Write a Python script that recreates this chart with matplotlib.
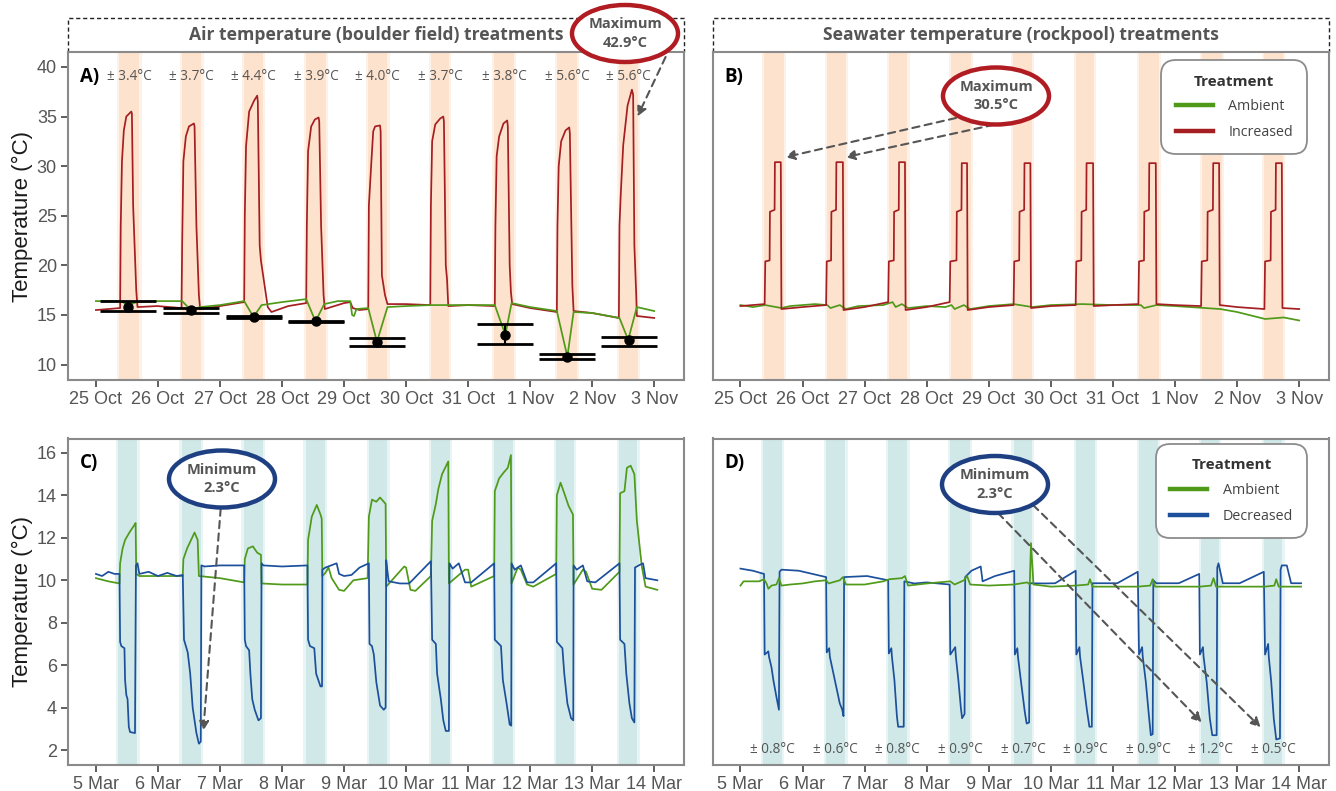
import numpy as np
import matplotlib
matplotlib.use("Agg")
import matplotlib.pyplot as plt
import matplotlib.dates as mdates
from matplotlib.lines import Line2D
from matplotlib.patches import Ellipse

# ---------------- data (t = days since first date) ----------------
start_ab = "2019-10-25"
start_cd = "2020-03-05"

band_ab_start = [0.38, 1.39, 2.39, 3.39, 4.39, 5.40, 6.42, 7.44, 8.44]
band_ab_end = [0.70, 1.70, 2.69, 3.71, 4.70, 5.69, 6.74, 7.76, 8.74]
band_cd_start = [0.36, 1.38, 2.38, 3.38, 4.40, 5.40, 6.42, 7.42, 8.44]
band_cd_end = [0.67, 1.69, 2.69, 3.69, 4.70, 5.71, 6.72, 7.71, 8.73]

sd_air = [3.4, 3.7, 4.4, 3.9, 4.0, 3.7, 3.8, 5.6, 5.6]
sd_sea_cold = [0.8, 0.6, 0.8, 0.9, 0.7, 0.9, 0.9, 1.2, 0.5]

# A) air temperature, increased treatment
air_inc = [
    (0.00, 15.5), (0.20, 15.6), (0.39, 15.7), (0.40, 24.0), (0.42, 30.5), (0.45, 33.6), (0.49, 35.0),
    (0.57, 35.5), (0.58, 35.3), (0.60, 26.0), (0.65, 17.5), (0.67, 15.8), (0.99, 15.9),
    (1.38, 15.7), (1.39, 22.0), (1.41, 30.5), (1.45, 33.0), (1.50, 34.0), (1.58, 34.3), (1.59, 34.0),
    (1.62, 24.0), (1.66, 17.0), (1.68, 15.6), (2.00, 15.9), (2.39, 16.3),
    (2.40, 25.0), (2.42, 32.0), (2.47, 35.5), (2.55, 36.6), (2.60, 37.1), (2.61, 36.5), (2.64, 22.0),
    (2.66, 20.5), (2.77, 15.8), (2.83, 15.3), (3.10, 15.9), (3.39, 16.2),
    (3.40, 24.0), (3.42, 31.5), (3.47, 34.0), (3.53, 34.7), (3.59, 34.9), (3.60, 34.5), (3.63, 24.0),
    (3.67, 17.0), (3.69, 15.6), (4.00, 16.2), (4.10, 16.3), (4.14, 15.7), (4.25, 15.5), (4.39, 15.6),
    (4.40, 26.0), (4.44, 30.4), (4.47, 33.5), (4.50, 34.0), (4.58, 34.1), (4.59, 33.5), (4.61, 19.0),
    (4.66, 17.0), (4.70, 16.1), (5.00, 16.1), (5.39, 16.0),
    (5.40, 26.0), (5.42, 32.5), (5.47, 34.2), (5.55, 34.8), (5.60, 35.0), (5.61, 34.5), (5.64, 20.0),
    (5.66, 18.6), (5.68, 15.9), (6.00, 16.0), (6.43, 15.9),
    (6.44, 24.0), (6.46, 31.0), (6.50, 33.0), (6.57, 34.3), (6.63, 34.6), (6.64, 34.0), (6.67, 20.0),
    (6.69, 17.3), (6.71, 16.1), (7.00, 15.7), (7.43, 15.3),
    (7.44, 24.0), (7.46, 30.0), (7.50, 32.5), (7.57, 33.6), (7.63, 33.9), (7.64, 33.3), (7.68, 18.0),
    (7.70, 15.4), (8.00, 15.2), (8.43, 14.7),
    (8.44, 24.0), (8.46, 27.1), (8.50, 32.1), (8.57, 36.1), (8.64, 37.7), (8.66, 37.2), (8.68, 22.0),
    (8.71, 17.0), (8.72, 14.9), (9.00, 14.7),
]
air_amb = [
    (0.00, 16.4), (0.40, 16.4), (0.52, 16.0), (0.66, 16.3), (1.00, 16.4), (1.39, 16.4), (1.53, 15.5),
    (1.68, 15.8), (2.00, 16.0), (2.39, 16.4), (2.54, 14.8), (2.67, 16.0), (3.00, 16.3), (3.39, 16.6),
    (3.54, 14.35), (3.68, 16.1), (3.90, 16.4), (4.10, 16.4), (4.13, 15.0), (4.16, 14.9), (4.20, 15.6),
    (4.39, 15.7), (4.53, 12.3), (4.70, 15.8), (5.00, 15.9), (5.40, 16.0), (5.70, 16.0), (6.00, 16.0),
    (6.43, 16.0), (6.60, 13.0), (6.70, 16.2), (7.00, 15.8), (7.43, 15.4), (7.60, 10.8), (7.70, 15.3),
    (8.00, 15.2), (8.44, 14.7), (8.58, 12.5), (8.72, 15.8), (9.00, 15.4),
]
eb_t = [0.51, 1.53, 2.55, 3.55, 4.53, 6.60, 7.60, 8.59]
eb_mean = [15.85, 15.47, 14.80, 14.36, 12.32, 13.00, 10.80, 12.48]
eb_lo = [15.42, 15.18, 14.74, 14.32, 11.85, 12.04, 10.57, 11.90]
eb_hi = [16.36, 15.68, 14.86, 14.42, 12.73, 14.05, 11.03, 12.81]

# B) seawater, increased treatment (stepped heating)
sea_inc = [
    (0.00, 15.9), (0.39, 16.1), (0.40, 20.4), (0.47, 20.5), (0.475, 25.4), (0.55, 25.6), (0.555, 30.4),
    (0.65, 30.4), (0.66, 15.6), (1.00, 15.8), (1.38, 16.0),
    (1.39, 20.4), (1.46, 20.5), (1.465, 25.4), (1.54, 25.6), (1.545, 30.4), (1.65, 30.4), (1.66, 15.5),
    (2.00, 15.8), (2.38, 16.3),
    (2.39, 20.4), (2.47, 20.5), (2.475, 25.4), (2.55, 25.6), (2.555, 30.4), (2.65, 30.4), (2.66, 15.5),
    (3.00, 15.8), (3.37, 16.3),
    (3.38, 20.4), (3.48, 20.5), (3.485, 25.4), (3.56, 25.6), (3.565, 30.3), (3.65, 30.3), (3.66, 15.5),
    (4.00, 15.8), (4.40, 16.0),
    (4.41, 20.4), (4.49, 20.5), (4.495, 25.4), (4.57, 25.6), (4.575, 30.3), (4.67, 30.3), (4.68, 15.7),
    (5.00, 15.9), (5.40, 16.0),
    (5.41, 20.4), (5.49, 20.5), (5.495, 25.4), (5.57, 25.6), (5.575, 30.3), (5.68, 30.3), (5.69, 15.9),
    (6.00, 16.0), (6.41, 16.1),
    (6.42, 20.4), (6.50, 20.5), (6.505, 25.4), (6.58, 25.6), (6.585, 30.3), (6.69, 30.3), (6.70, 16.1),
    (7.00, 16.0), (7.42, 15.9),
    (7.43, 20.4), (7.52, 20.5), (7.525, 25.4), (7.61, 25.6), (7.615, 30.3), (7.71, 30.3), (7.72, 16.0),
    (8.00, 15.8), (8.44, 15.6),
    (8.45, 20.4), (8.54, 20.5), (8.545, 25.4), (8.62, 25.6), (8.625, 30.3), (8.72, 30.3), (8.73, 15.7),
    (9.00, 15.6),
]
sea_amb = [
    (0.00, 16.0), (0.20, 15.8), (0.40, 16.0), (0.66, 15.7), (0.80, 15.9), (1.20, 16.1), (1.40, 16.0),
    (1.45, 15.7), (1.60, 16.0), (1.70, 15.6), (1.90, 15.9), (2.30, 16.0), (2.45, 16.3), (2.50, 15.8),
    (2.60, 16.1), (2.70, 15.7), (3.00, 15.9), (3.30, 15.8), (3.40, 16.0), (3.45, 15.6), (3.60, 16.0),
    (3.70, 15.6), (4.00, 15.9), (4.40, 16.1), (4.70, 15.8), (5.00, 16.0), (5.50, 16.1), (6.00, 16.0),
    (6.45, 16.0), (6.50, 15.7), (6.70, 16.0), (7.00, 15.9), (7.73, 15.6), (8.00, 15.3), (8.45, 14.6),
    (8.75, 14.75), (9.00, 14.45),
]

# C) air temperature, decreased treatment
air_dec = [
    (0.00, 10.3), (0.10, 10.2), (0.20, 10.4), (0.30, 10.3), (0.38, 10.3), (0.39, 7.1), (0.41, 6.9),
    (0.46, 6.8), (0.47, 5.3), (0.49, 4.6), (0.51, 4.4), (0.53, 3.1), (0.55, 2.85), (0.63, 2.8),
    (0.645, 10.7), (0.67, 10.8), (0.70, 10.3), (0.85, 10.4), (1.00, 10.2), (1.15, 10.35), (1.30, 10.2),
    (1.40, 10.25),
    (1.42, 7.2), (1.44, 7.0), (1.48, 6.6), (1.52, 5.6), (1.56, 4.0), (1.62, 2.8), (1.66, 2.3),
    (1.69, 2.4), (1.70, 10.7), (1.75, 10.65), (2.00, 10.7), (2.39, 10.7),
    (2.40, 7.2), (2.42, 6.9), (2.47, 6.7), (2.49, 5.6), (2.52, 4.4), (2.56, 3.9), (2.62, 3.4),
    (2.66, 3.5), (2.67, 10.8), (2.70, 10.7), (3.00, 10.65), (3.41, 10.7),
    (3.42, 7.2), (3.45, 6.9), (3.52, 6.8), (3.55, 5.6), (3.62, 5.0), (3.645, 5.0), (3.65, 10.5),
    (3.70, 10.6), (3.88, 10.8), (3.92, 10.3), (4.00, 10.2), (4.12, 10.25), (4.25, 10.6), (4.40, 10.8),
    (4.41, 7.0), (4.45, 6.9), (4.48, 6.5), (4.52, 5.2), (4.58, 4.1), (4.64, 3.9), (4.67, 4.0),
    (4.68, 10.95), (4.70, 10.4), (4.72, 9.95), (4.90, 9.85), (5.05, 9.85), (5.40, 10.9),
    (5.42, 7.2), (5.48, 7.0), (5.50, 5.6), (5.56, 4.4), (5.60, 3.4), (5.64, 2.9), (5.69, 2.9),
    (5.70, 10.8), (5.75, 10.55), (5.85, 10.8), (5.95, 9.9), (6.05, 9.9), (6.42, 10.8),
    (6.43, 7.2), (6.53, 6.9), (6.56, 5.3), (6.62, 4.2), (6.67, 3.2), (6.695, 3.15), (6.70, 10.8),
    (6.75, 10.5), (6.85, 10.7), (6.95, 9.9), (7.05, 9.9), (7.42, 10.8),
    (7.43, 7.1), (7.52, 6.8), (7.55, 5.6), (7.60, 4.2), (7.66, 3.5), (7.695, 3.4), (7.70, 10.7),
    (7.75, 10.5), (7.85, 10.7), (7.92, 9.95), (8.05, 9.9), (8.44, 10.8),
    (8.45, 7.2), (8.52, 7.0), (8.55, 5.6), (8.60, 4.2), (8.64, 3.5), (8.68, 3.3), (8.69, 10.6),
    (8.75, 10.7), (8.82, 10.8), (8.86, 10.1), (9.05, 10.0),
]
air_amb_cd = [
    (0.00, 10.1), (0.20, 9.95), (0.38, 9.85), (0.39, 10.8), (0.43, 11.5), (0.47, 11.9), (0.55, 12.3),
    (0.62, 12.6), (0.64, 12.7), (0.65, 10.3), (0.70, 10.2), (1.00, 10.2), (1.40, 10.2), (1.41, 11.0),
    (1.47, 11.5), (1.55, 12.0), (1.59, 12.25), (1.64, 11.9), (1.66, 10.2), (2.00, 10.1), (2.39, 9.9),
    (2.40, 11.0), (2.45, 11.5), (2.53, 11.6), (2.60, 11.3), (2.66, 11.2), (2.67, 9.85), (3.00, 9.8),
    (3.41, 9.8), (3.42, 11.9), (3.48, 13.0), (3.56, 13.55), (3.62, 13.1), (3.64, 12.9), (3.65, 10.2),
    (3.70, 10.35), (3.75, 10.6), (3.80, 10.1), (3.92, 9.55), (4.00, 9.5), (4.15, 10.0), (4.38, 10.1),
    (4.40, 13.0), (4.45, 13.8), (4.52, 13.7), (4.58, 13.9), (4.67, 13.6), (4.68, 9.7), (4.97, 10.65),
    (5.00, 10.6), (5.07, 9.55), (5.15, 9.5), (5.40, 10.2), (5.42, 12.8), (5.48, 13.6), (5.52, 14.3),
    (5.58, 15.0), (5.68, 15.6), (5.69, 9.85), (5.95, 10.5), (6.00, 10.5), (6.05, 9.7), (6.42, 10.2),
    (6.43, 14.2), (6.50, 14.8), (6.58, 15.1), (6.64, 15.3), (6.69, 15.9), (6.70, 9.85), (6.80, 10.6),
    (6.85, 10.5), (6.95, 9.8), (7.05, 9.7), (7.42, 10.3), (7.43, 14.0), (7.49, 14.6), (7.55, 14.1),
    (7.62, 13.5), (7.69, 13.1), (7.70, 9.8), (7.85, 10.5), (7.90, 10.4), (8.00, 9.6), (8.15, 9.55),
    (8.44, 10.4), (8.45, 14.1), (8.52, 14.2), (8.56, 15.3), (8.62, 15.4), (8.68, 15.0), (8.72, 12.8),
    (8.80, 10.65), (8.86, 9.7), (9.05, 9.55),
]

# D) seawater, decreased treatment
sea_dec = [
    (0.00, 10.55), (0.20, 10.45), (0.38, 10.3), (0.39, 6.5), (0.43, 6.6), (0.45, 6.65), (0.46, 6.4),
    (0.50, 5.9), (0.53, 5.3), (0.58, 4.5), (0.62, 3.9), (0.63, 10.4), (0.66, 10.5), (0.94, 10.45),
    (1.38, 10.15), (1.39, 6.6), (1.43, 6.8), (1.44, 6.4), (1.52, 5.3), (1.60, 4.2), (1.64, 3.9),
    (1.66, 3.6), (1.67, 10.15), (2.04, 10.2), (2.38, 10.0),
    (2.39, 6.55), (2.43, 6.8), (2.44, 6.4), (2.48, 5.3), (2.52, 3.6), (2.54, 3.1), (2.63, 3.1),
    (2.64, 9.95), (2.80, 9.85), (3.00, 9.9), (3.37, 9.8),
    (3.38, 6.5), (3.46, 6.85), (3.47, 6.4), (3.51, 5.3), (3.55, 4.0), (3.57, 3.5), (3.61, 3.7),
    (3.62, 10.15), (3.72, 10.45), (3.87, 10.65), (3.90, 9.95), (4.10, 10.2), (4.41, 10.45),
    (4.42, 6.5), (4.46, 6.8), (4.47, 6.4), (4.52, 5.2), (4.58, 3.8), (4.61, 3.25), (4.65, 3.3),
    (4.66, 9.86), (4.90, 9.85), (5.07, 9.86), (5.40, 10.45),
    (5.41, 6.5), (5.46, 6.85), (5.47, 6.4), (5.52, 5.3), (5.58, 3.9), (5.62, 3.1), (5.66, 3.1),
    (5.67, 9.86), (6.07, 9.86), (6.40, 10.4),
    (6.42, 6.5), (6.47, 6.85), (6.48, 6.4), (6.53, 5.2), (6.58, 3.6), (6.61, 2.7), (6.64, 2.75),
    (6.65, 10.0), (6.70, 9.86), (7.06, 9.86), (7.39, 10.3),
    (7.40, 6.5), (7.45, 6.85), (7.46, 6.4), (7.51, 5.2), (7.56, 3.5), (7.60, 2.7), (7.67, 2.7),
    (7.68, 10.6), (7.70, 10.8), (7.77, 9.86), (8.04, 9.86), (8.43, 10.4),
    (8.45, 6.5), (8.50, 7.0), (8.51, 6.4), (8.55, 5.2), (8.59, 3.5), (8.63, 2.5), (8.69, 2.55),
    (8.70, 10.5), (8.72, 10.7), (8.80, 10.7), (8.87, 9.86), (9.03, 9.86),
]
sea_amb_cd = [
    (0.00, 9.75), (0.05, 9.95), (0.30, 9.95), (0.38, 10.05), (0.42, 9.85), (0.45, 9.6), (0.50, 9.75),
    (0.58, 9.8), (0.62, 10.1), (0.66, 9.75), (0.80, 9.8), (1.00, 9.85), (1.20, 9.95), (1.38, 10.0),
    (1.42, 9.85), (1.60, 10.0), (1.65, 10.15), (1.70, 9.8), (2.00, 9.8), (2.30, 9.95), (2.40, 10.05),
    (2.60, 10.1), (2.65, 10.2), (2.70, 9.75), (3.00, 9.85), (3.38, 9.95), (3.45, 9.8), (3.60, 10.0),
    (3.65, 10.2), (3.70, 9.8), (4.00, 9.75), (4.40, 9.8), (4.62, 9.9), (4.66, 9.8), (4.68, 11.75),
    (4.72, 9.8), (5.00, 9.7), (5.40, 9.75), (5.60, 9.8), (5.63, 10.05), (5.67, 9.7), (6.00, 9.7),
    (6.40, 9.7), (6.60, 9.75), (6.64, 10.05), (6.68, 9.7), (7.00, 9.7), (7.40, 9.7), (7.58, 9.75),
    (7.62, 10.1), (7.66, 9.7), (8.00, 9.7), (8.45, 9.7), (8.60, 9.75), (8.63, 10.05), (8.67, 9.7),
    (9.03, 9.7),
]

# ---------------- style ----------------
W, H = 1336, 791
GREEN = "#4f9a18"
RED = "#a51e22"
BLUE = "#1c4f9c"
PEACH = "#fde2cd"
TEAL = "#d0e8e8"
GREY_TXT = "#555555"
SANS = ["Liberation Sans", "DejaVu Sans"]
HUM = ["Open Sans", "DejaVu Sans"]

plt.rcParams["font.family"] = SANS

fig = plt.figure(figsize=(W / 100, H / 100), dpi=100)


def px_axes(l, t, r, b):
    return fig.add_axes([l / W, 1 - b / H, (r - l) / W, (b - t) / H])


axA = px_axes(68, 52, 684, 380)
axB = px_axes(712.5, 52, 1329, 380)
axC = px_axes(68, 438.5, 684, 764.5)
axD = px_axes(712.5, 438.5, 1329, 764.5)

base_ab = mdates.datestr2num(start_ab)
base_cd = mdates.datestr2num(start_cd)


def series(pts):
    a = np.array(pts, dtype=float)
    return a[:, 0], a[:, 1]


def draw_bands(ax, base, starts, ends, color):
    for s, e in zip(starts, ends):
        ax.axvspan(base + s - 0.035, base + e + 0.035, color=color, alpha=0.45, lw=0, zorder=0)
        ax.axvspan(base + s, base + e, color=color, lw=0, zorder=0)


def fill_gap(ax, base, a_pts, b_pts, starts, ends, color):
    ta, va = series(a_pts)
    tb, vb = series(b_pts)
    for s, e in zip(starts, ends):
        lo_t, hi_t = s - 0.06, e + 0.06
        tt = np.union1d(ta[(ta >= lo_t) & (ta <= hi_t)], tb[(tb >= lo_t) & (tb <= hi_t)])
        ya = np.interp(tt, ta, va)
        yb = np.interp(tt, tb, vb)
        ax.fill_between(base + tt, np.minimum(ya, yb), np.maximum(ya, yb), color=color, lw=0, zorder=1)


def line(ax, base, pts, color, z=3):
    t, v = series(pts)
    ax.plot(base + t, v, color=color, lw=1.25, zorder=z)


def style_axes(ax, base, ylim, yticks, show_y):
    ax.set_xlim(base - 0.45, base + 9.48)
    ax.set_ylim(*ylim)
    ax.xaxis.set_major_locator(mdates.DayLocator())
    ax.xaxis.set_major_formatter(mdates.DateFormatter("%-d %b"))
    for sp in ax.spines.values():
        sp.set_color("#8a8a8a")
        sp.set_linewidth(1.5)
    ax.tick_params(axis="x", colors="#444444", labelsize=13, length=5, width=1.2, pad=3)
    for lab in ax.get_xticklabels():
        lab.set_color("#555555")
    if show_y:
        ax.set_yticks(yticks)
        ax.tick_params(axis="y", colors="#444444", labelsize=13, length=5, width=1.2, pad=3)
        for lab in ax.get_yticklabels():
            lab.set_color("#555555")
    else:
        ax.set_yticks([])


def panel_label(ax, text):
    ax.text(0.019, 0.925, text, transform=ax.transAxes, fontsize=13.5, fontweight="bold",
            family=HUM, ha="left", va="center", color="black", zorder=6)


def strip(ax, title):
    h = 34 / 328
    ax.add_line(Line2D([0, 0, 1, 1], [1, 1 + h, 1 + h, 1], transform=ax.transAxes,
                       color="#222222", lw=1.0, ls=(0, (3, 2)), clip_on=False))
    ax.text(0.5, 1 + h / 2, title, transform=ax.transAxes, ha="center", va="center",
            fontsize=12.6, fontweight="bold", family=HUM, color=GREY_TXT)


def bubble(cx, cy, text, color):
    fig.add_artist(Ellipse((cx / W, 1 - cy / H), 106 / W, 57 / H, transform=fig.transFigure,
                           facecolor="white", edgecolor=color, lw=3.2, zorder=10))
    fig.text(cx / W, 1 - cy / H, text, ha="center", va="center", fontsize=10.5, fontweight="bold",
             family=HUM, color=GREY_TXT, linespacing=1.45, zorder=11)


def arrow(ax, base, t, v, sx, sy):
    ax.annotate("", xy=(base + t, v), xycoords="data", xytext=(sx / W, 1 - sy / H),
                textcoords="figure fraction", annotation_clip=False,
                arrowprops=dict(arrowstyle="-|>", ls=(0, (3.5, 2.5)), color="#555555", lw=1.5,
                                shrinkA=0, shrinkB=0, mutation_scale=14), zorder=9)


def legend(ax, labels, colors, anchor):
    handles = [Line2D([], [], color=c, lw=3.2) for c in colors]
    leg = ax.legend(handles, labels, title="Treatment", loc="upper right", bbox_to_anchor=anchor,
                    frameon=True, fancybox=True, borderaxespad=0, borderpad=1.0,
                    handlelength=2.6, handletextpad=1.1, labelspacing=0.75,
                    prop={"family": HUM, "size": 10.3},
                    title_fontproperties={"family": HUM, "size": 11, "weight": "bold"})
    leg.get_title().set_color("#333333")
    for txt in leg.get_texts():
        txt.set_color("#444444")
    fr = leg.get_frame()
    fr.set_edgecolor("#8c8c8c")
    fr.set_linewidth(1.3)
    fr.set_facecolor("white")
    fr.set_alpha(1)
    fr.set_boxstyle("round,pad=0,rounding_size=1.0")
    leg._legend_box.align = "center"
    leg.set_zorder(8)


# ---------------- A ----------------
draw_bands(axA, base_ab, band_ab_start, band_ab_end, PEACH)
fill_gap(axA, base_ab, air_inc, air_amb, band_ab_start, band_ab_end, PEACH)
line(axA, base_ab, air_inc, RED)
line(axA, base_ab, air_amb, GREEN, z=4)
eb_x = base_ab + np.array(eb_t)
eb_m = np.array(eb_mean)
axA.errorbar(eb_x, eb_m, yerr=[eb_m - np.array(eb_lo), np.array(eb_hi) - eb_m], fmt="o",
             color="black", ms=6.5, elinewidth=1.5, capsize=20, capthick=2.0, zorder=5)
for s, e, sd in zip(band_ab_start, band_ab_end, sd_air):
    axA.text(base_ab + (s + e) / 2, 39.05, f"± {sd:.1f}°C", ha="center", va="center",
             fontsize=9.8, family=HUM, color=GREY_TXT)
style_axes(axA, base_ab, (8.45, 41.5), [10, 15, 20, 25, 30, 35, 40], True)
panel_label(axA, "A)")
strip(axA, "Air temperature (boulder field) treatments")

# ---------------- B ----------------
draw_bands(axB, base_ab, band_ab_start, band_ab_end, PEACH)
fill_gap(axB, base_ab, sea_inc, sea_amb, band_ab_start, band_ab_end, PEACH)
line(axB, base_ab, sea_amb, GREEN)
line(axB, base_ab, sea_inc, RED, z=4)
style_axes(axB, base_ab, (8.45, 41.5), [], False)
panel_label(axB, "B)")
strip(axB, "Seawater temperature (rockpool) treatments")
legend(axB, ["Ambient", "Increased"], [GREEN, RED], (0.965, 0.975))

# ---------------- C ----------------
draw_bands(axC, base_cd, band_cd_start, band_cd_end, TEAL)
fill_gap(axC, base_cd, air_dec, air_amb_cd, band_cd_start, band_cd_end, TEAL)
line(axC, base_cd, air_amb_cd, GREEN)
line(axC, base_cd, air_dec, BLUE, z=4)
style_axes(axC, base_cd, (1.32, 16.68), [2, 4, 6, 8, 10, 12, 14, 16], True)
panel_label(axC, "C)")

# ---------------- D ----------------
draw_bands(axD, base_cd, band_cd_start, band_cd_end, TEAL)
fill_gap(axD, base_cd, sea_dec, sea_amb_cd, band_cd_start, band_cd_end, TEAL)
line(axD, base_cd, sea_dec, BLUE)
line(axD, base_cd, sea_amb_cd, GREEN, z=4)
for s, e, sd in zip(band_cd_start, band_cd_end, sd_sea_cold):
    axD.text(base_cd + (s + e) / 2, 2.05, f"± {sd:.1f}°C", ha="center", va="center",
             fontsize=9.8, family=HUM, color=GREY_TXT)
style_axes(axD, base_cd, (1.32, 16.68), [], False)
panel_label(axD, "D)")
legend(axD, ["Ambient", "Decreased"], [GREEN, BLUE], (0.965, 0.983))

# y labels
for yc in [(52 + 380) / 2, (438.5 + 764.5) / 2]:
    fig.text(22 / W, 1 - yc / H, "Temperature (°C)", rotation=90, ha="center", va="center",
             fontsize=16, color="#1a1a1a")

# call-outs
bubble(625, 33.5, "Maximum\n42.9°C", "#b01c22")
arrow(axA, base_ab, 8.73, 35.0, 665.6, 57)
bubble(996, 96, "Maximum\n30.5°C", "#b01c22")
arrow(axB, base_ab, 0.72, 30.9, 956, 118)
arrow(axB, base_ab, 1.69, 30.9, 993.8, 124.8)
bubble(222, 479, "Minimum\n2.3°C", "#1e3f82")
arrow(axC, base_cd, 1.73, 2.9, 220.7, 508.5)
bubble(995, 484.5, "Minimum\n2.3°C", "#1e3f82")
arrow(axD, base_cd, 7.43, 3.3, 998, 513)
arrow(axD, base_cd, 8.38, 3.07, 1033, 505)

fig.savefig("out.png", dpi=100, facecolor="white")
